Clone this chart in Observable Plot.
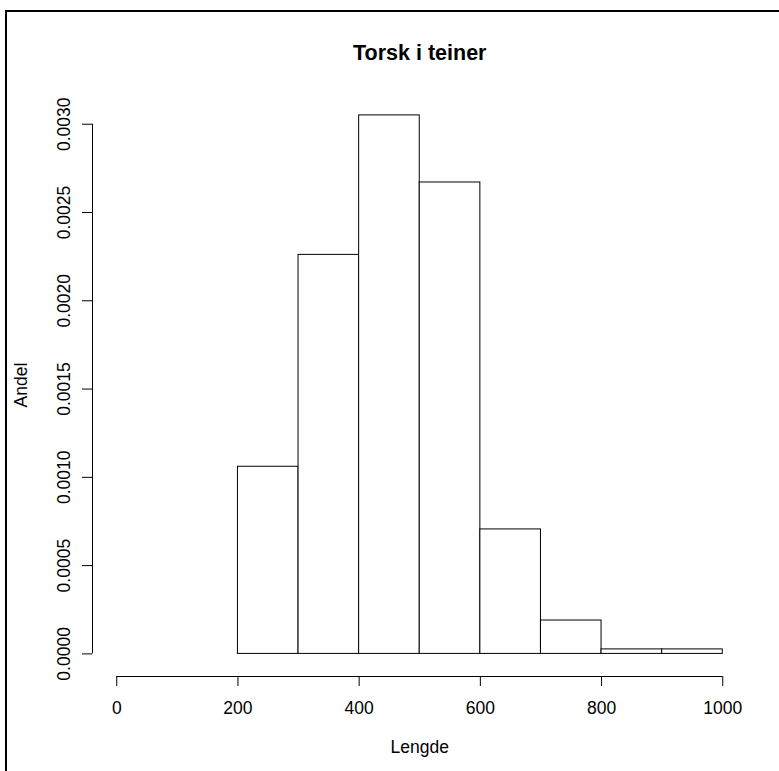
<!DOCTYPE html>
<html>
<head>
<meta charset="utf-8">
<script src="https://cdn.jsdelivr.net/npm/d3@7"></script>
<script src="https://cdn.jsdelivr.net/npm/@observablehq/plot@0.6"></script>
<style>
  html, body { margin: 0; padding: 0; background: #fff; overflow: hidden; }
  #wrap { position: relative; width: 779px; height: 771px; }
  #border { position: absolute; left: 5px; top: 10px; right: 0; bottom: 0;
            border-left: 2px solid #000; border-top: 2px solid #000; pointer-events: none; }
</style>
</head>
<body>
<div id="wrap"><div id="border"></div></div>
<script>
const title = "Torsk i teiner";
const xLabel = "Lengde";
const yLabel = "Andel";
const binEdges = [200, 300, 400, 500, 600, 700, 800, 900, 1000];
const density = [0.00106, 0.00226, 0.00305, 0.00267, 0.000705, 0.000189, 0.0000255, 0.0000255];
const xTicks = [0, 200, 400, 600, 800, 1000];
const yTicks = [0, 0.0005, 0.0010, 0.0015, 0.0020, 0.0025, 0.0030];
const yTickLabels = ["0.0000", "0.0005", "0.0010", "0.0015", "0.0020", "0.0025", "0.0030"];

const bins = density.map((d, i) => ({x1: binEdges[i], x2: binEdges[i + 1], density: d}));
const xDomain = [-40, 1040];
const yDomain = [-0.000128, 0.003174];
const font = "'Liberation Sans', Arial, sans-serif";
const fs = 17.5;

const chart = Plot.plot({
  width: 779,
  height: 771,
  marginLeft: 92,
  marginRight: 32.5,
  marginTop: 93,
  marginBottom: 95,
  style: {fontFamily: font, fontSize: fs + "px", background: "transparent", color: "#000"},
  x: {domain: xDomain},
  y: {domain: yDomain},
  marks: [
    Plot.rectY(bins, {x1: "x1", x2: "x2", y1: 0, y2: "density", fill: "white", stroke: "black", strokeWidth: 1}),
    // x axis
    Plot.ruleY([yDomain[0]], {x1: xTicks[0], x2: xTicks[xTicks.length - 1], stroke: "black"}),
    Plot.axisX(xTicks, {tickSize: 10, tickPadding: 15, fontSize: fs, label: null, tickFormat: d => String(d)}),
    // y axis
    Plot.ruleX([xDomain[0]], {y1: yTicks[0], y2: yTicks[yTicks.length - 1], stroke: "black"}),
    Plot.axisY(yTicks, {tickSize: 10, tickFormat: () => "", label: null}),
    Plot.text(yTicks, {y: d => d, text: (d, i) => yTickLabels[i], frameAnchor: "left", dx: -28, rotate: -90,
      textAnchor: "middle", lineAnchor: "middle", fontSize: fs}),
    // labels and title
    Plot.text([xLabel], {frameAnchor: "bottom", dy: 70.5, textAnchor: "middle", lineAnchor: "middle", fontSize: fs}),
    Plot.text([yLabel], {frameAnchor: "left", dx: -71.5, rotate: -90, textAnchor: "middle", lineAnchor: "middle", fontSize: fs}),
    Plot.text([title], {frameAnchor: "top", dy: -40, textAnchor: "middle", lineAnchor: "middle", fontSize: 21.5, fontWeight: "bold"})
  ]
});
document.getElementById("wrap").prepend(chart);
</script>
</body>
</html>
